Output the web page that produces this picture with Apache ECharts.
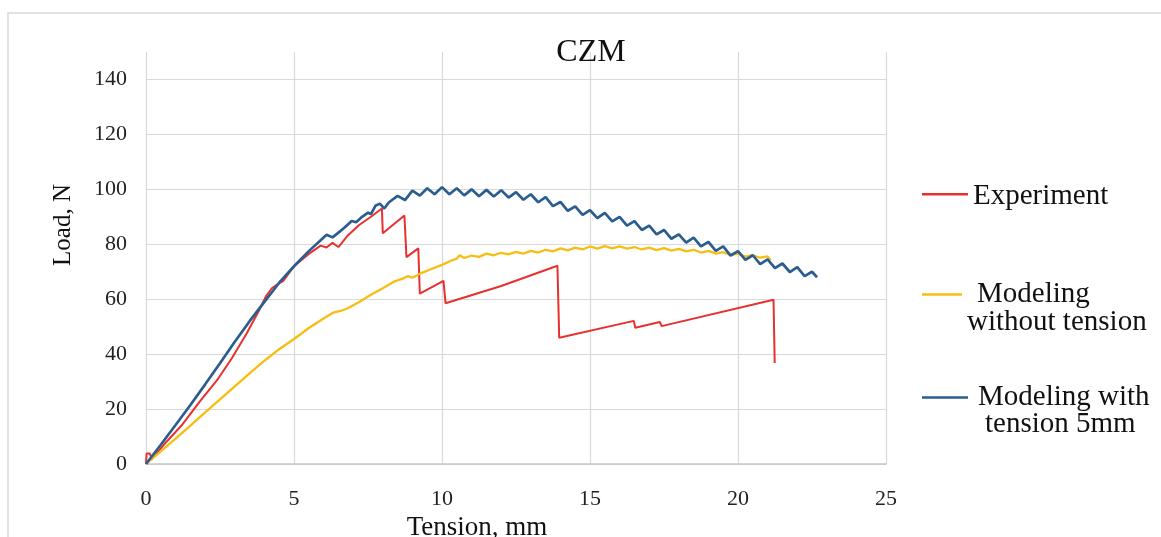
<!DOCTYPE html>
<html>
<head>
<meta charset="utf-8">
<script src="https://cdn.jsdelivr.net/npm/echarts@6/dist/echarts.min.js"></script>
<style>
html,body{margin:0;padding:0;background:#fff;}
#chart{width:1161px;height:537px;}
</style>
</head>
<body>
<div id="chart"></div>
<script>
// ---- data (x = Tension, mm ; y = Load, N) ----
var seriesNames = ['Experiment', 'Modeling without tension', 'Modeling with tension 5mm'];
var xTicks = [0, 5, 10, 15, 20, 25];
var yTicks = [0, 20, 40, 60, 80, 100, 120, 140];

var experimentData = [
  [0,0],[0.02,3.8],[0.13,3.8],[0.2,1.8],[0.6,7],[1.2,14],[1.8,22.5],[2.4,30.5],[2.9,38.5],
  [3.4,47.5],[3.8,55.5],[4.05,61],[4.25,64],[4.45,65.5],[4.65,66.8],[5,72],[5.5,76.5],
  [5.9,79.5],[6.1,78.8],[6.3,80.5],[6.5,79],[6.8,83],[7.2,87],[7.6,90],[7.97,93],
  [8.0,84],[8.73,90.5],[8.8,75.3],[9.2,78.5],[9.25,62],[10.05,66.7],[10.12,58.5],
  [12,64.8],[13.9,72.2],[13.96,46],[16.48,52.1],[16.53,49.6],[17.36,51.7],[17.42,50.2],
  [21.2,59.8],[21.24,36.8]
];

var noTensionData = [
  [0,0],[0.5,4.6],[1,9.2],[1.5,14],[2,18.8],[2.5,23.5],[3,28.3],[3.5,33],[4,37.6],
  [4.5,41.8],[5,45.5],[5.5,49.5],[6,53],[6.3,55],[6.6,55.8],[6.8,56.6],[7.2,59],
  [7.6,61.6],[8,64],[8.4,66.5],[8.7,67.6],[8.85,68.4],[9.0,67.8],[9.3,69.5],[9.6,70.8],
  [10.0,72.5],[10.3,74],[10.5,74.8],[10.6,76],[10.75,75],[11.0,75.9],[11.25,75.4],
  [11.5,76.6],[11.75,76.0],[12.0,76.9],[12.25,76.3],[12.5,77.2],[12.75,76.6],[13.0,77.6],
  [13.25,77.0],[13.5,78.0],[13.75,77.4],[14.0,78.5],[14.25,77.8],[14.5,78.8],[14.75,78.1],
  [15.0,79.2],[15.25,78.4],[15.5,79.3],[15.75,78.5],[16.0,79.2],[16.25,78.4],[16.5,79.0],
  [16.75,78.1],[17.0,78.8],[17.25,77.9],[17.5,78.6],[17.75,77.7],[18.0,78.3],[18.25,77.4],
  [18.5,78.0],[18.75,77.0],[19.0,77.6],[19.25,76.6],[19.5,77.1],[19.75,76.1],[20.0,76.6],
  [20.25,75.5],[20.5,76.0],[20.75,75.1],[21.0,75.6],[21.1,74.2]
];

var tensionData = [
  [0,0],[0.5,7],[1,14.2],[1.5,21.5],[2,29],[2.5,36.7],[3,44.5],[3.5,52],[4,59],
  [4.5,66],[5,72],[5.5,77.5],[5.9,81.5],[6.1,83.5],[6.3,82.5],[6.45,83.8],[6.7,86],
  [6.95,88.5],[7.1,88],[7.3,90],[7.5,91.5],[7.6,91],[7.75,94],[7.9,94.8],[8.05,93],
  [8.2,95.2],[8.5,97.6],[8.75,96.1],[9.0,99.5],[9.25,97.7],[9.5,100.4],[9.75,98.2],
  [10.0,100.8],[10.25,98.2],[10.5,100.4],[10.75,97.8],[11.0,100.0],[11.25,97.5],
  [11.5,99.8],[11.75,97.4],[12.0,99.7],[12.25,97.0],[12.5,99.0],[12.75,96.2],[13.0,98.2],
  [13.25,95.3],[13.5,97.2],[13.75,93.9],[14.0,95.4],[14.25,92.2],[14.5,93.8],[14.75,90.7],
  [15.0,92.4],[15.25,89.5],[15.5,91.4],[15.75,88.3],[16.0,90.0],[16.25,86.8],[16.5,88.4],
  [16.75,85.2],[17.0,86.8],[17.25,83.6],[17.5,85.2],[17.75,82.0],[18.0,83.6],[18.25,80.6],
  [18.5,82.4],[18.75,79.2],[19.0,80.9],[19.25,77.6],[19.5,79.2],[19.75,75.9],[20.0,77.5],
  [20.25,74.3],[20.5,76.0],[20.75,72.8],[21.0,74.5],[21.25,71.3],[21.5,73.0],[21.75,69.9],
  [22.0,71.7],[22.25,68.4],[22.5,70.0],[22.67,68.0]
];

var serif = "'Liberation Serif', 'Times New Roman', serif";
var colors = ['#E8302F', '#F7BE12', '#2B5D8E'];

var chart = echarts.init(document.getElementById('chart'), null, {renderer: 'canvas'});

function legendItem(idx, top, itemWidth, itemHeight, lineCenter, rich, fmt) {
  var h = itemHeight;
  var path = 'path://M0,0H0.01V0.01H0Z M0,' + (lineCenter - 1.25) + 'H' + itemWidth + 'V' + (lineCenter + 1.25) + 'H0Z M0,' + (h - 0.01) + 'H0.01V' + h + 'H0Z';
  return {
    data: [seriesNames[idx]],
    left: 922,
    top: top,
    padding: 0,
    orient: 'vertical',
    selectedMode: false,
    icon: path,
    symbolKeepAspect: false,
    itemWidth: itemWidth,
    itemHeight: itemHeight,
    itemStyle: {borderWidth: 0},
    formatter: function () { return fmt; },
    textStyle: {fontFamily: serif, fontSize: 29, color: '#111', rich: rich}
  };
}

var option = {
  animation: false,
  backgroundColor: '#ffffff',
  color: colors,
  title: {
    text: 'CZM',
    left: 591,
    top: 37,
    padding: 0,
    textAlign: 'center',
    textStyle: {fontFamily: serif, fontSize: 32, fontWeight: 'normal', color: '#111'}
  },
  graphic: [{
    type: 'rect',
    shape: {x: 8, y: 13, width: 1170, height: 600},
    style: {fill: 'none', stroke: '#d9d9d9', lineWidth: 1.5},
    silent: true,
    z: -10
  }],
  legend: [
    legendItem(0, 181, 46, 30, 13.25,
      {a: {fontFamily: serif, fontSize: 29, lineHeight: 30, color: '#111'}},
      '{a|Experiment}'),
    legendItem(1, 280, 40, 56, 14,
      {a: {fontFamily: serif, fontSize: 29, lineHeight: 28, color: '#111', padding: [0, 0, 0, 10]},
       b: {fontFamily: serif, fontSize: 29, lineHeight: 28, color: '#111'}},
      '{a|Modeling}\n{b|without tension}'),
    legendItem(2, 383, 46, 54, 13.5,
      {a: {fontFamily: serif, fontSize: 29, lineHeight: 27, color: '#111', padding: [0, 0, 0, 5]},
       b: {fontFamily: serif, fontSize: 29, lineHeight: 27, color: '#111', padding: [0, 0, 0, 12]}},
      '{a|Modeling with}\n{b|tension 5mm}')
  ],
  grid: {left: 146, right: 275, top: 52, bottom: 73, containLabel: false, outerBoundsMode: 'none'},
  xAxis: {
    type: 'value',
    min: xTicks[0],
    max: xTicks[xTicks.length - 1],
    interval: 5,
    name: 'Tension, mm',
    nameLocation: 'middle',
    nameGap: 49,
    nameTextStyle: {fontFamily: serif, fontSize: 27, color: '#111', padding: [0, 78, 0, 0]},
    axisLine: {show: true, lineStyle: {color: '#c6c6c6', width: 1.5}},
    axisTick: {show: false},
    axisLabel: {fontFamily: serif, fontSize: 22, color: '#222', margin: 24},
    splitLine: {show: true, lineStyle: {color: '#d9d9d9', width: 1.2}}
  },
  yAxis: {
    type: 'value',
    min: yTicks[0],
    max: 150,
    interval: 20,
    name: 'Load, N',
    nameLocation: 'middle',
    nameGap: 70,
    nameRotate: 90,
    nameTextStyle: {fontFamily: serif, fontSize: 25, color: '#111', padding: [0, 0, 0, 66]},
    axisLine: {show: false},
    axisTick: {show: false},
    axisLabel: {fontFamily: serif, fontSize: 22, color: '#222', margin: 19, showMaxLabel: false},
    splitLine: {show: true, showMaxLine: false, lineStyle: {color: '#d9d9d9', width: 1.2}}
  },
  series: [
    {name: seriesNames[0], type: 'line', data: experimentData, symbol: 'none',
     lineStyle: {color: colors[0], width: 2}, itemStyle: {color: colors[0]}},
    {name: seriesNames[1], type: 'line', data: noTensionData, symbol: 'none',
     lineStyle: {color: colors[1], width: 2.3}, itemStyle: {color: colors[1]}},
    {name: seriesNames[2], type: 'line', data: tensionData, symbol: 'none',
     lineStyle: {color: colors[2], width: 2.7}, itemStyle: {color: colors[2]}}
  ]
};
chart.setOption(option);
</script>
</body>
</html>
